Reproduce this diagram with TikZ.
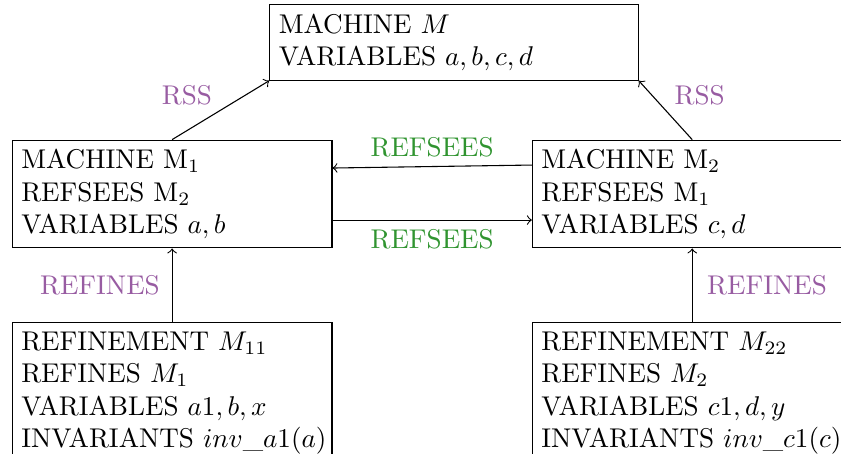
\documentclass[tikz,border=0pt]{standalone}
\usepackage{amsmath,amssymb}

\definecolor{relviolet}{RGB}{152,92,162}
\definecolor{relgreen}{RGB}{48,148,48}

\begin{document}
\begin{tikzpicture}[
  mbox/.style={draw, align=left, inner sep=3.33pt, text width=111.3pt},
  topbox/.style={mbox, text width=129.3pt},
  reflab/.style={text=relviolet},
  seelab/.style={text=relgreen}]

\useasboundingbox (0,0) rectangle (310.3pt,-167.5pt);

% the abstract machine
\node[topbox] (m) at (167.5pt,-15.7pt) {MACHINE $M$\\VARIABLES $a,b,c,d$};

% the two machines that see each other
\node[mbox] (m1) at (63.5pt,-71.6pt) {MACHINE M$_1$\\REFSEES M$_2$\\VARIABLES $a,b$};
\node[mbox] (m2) at (255.4pt,-71.6pt) {MACHINE M$_2$\\REFSEES M$_1$\\VARIABLES $c,d$};

% refinements
\node[mbox, anchor=north] (m11) at (63.5pt,-118.8pt)
  {REFINEMENT $M_{11}$\\REFINES $M_1$\\VARIABLES $a1,b,x$\\\mbox{INVARIANTS $inv\_a1(a)$}};
\node[mbox, anchor=north] (m22) at (255.4pt,-118.8pt)
  {REFINEMENT $M_{22}$\\REFINES $M_2$\\VARIABLES $c1,d,y$\\\mbox{INVARIANTS $inv\_c1(c)$}};

\draw[->] (m1.north) -- node[reflab, pos=0.76, left=9pt] {RSS} (m.south west);
\draw[->] (m2.north) -- node[reflab, pos=0.76, right=5pt] {RSS} (m.south east);

\draw[->] ([yshift=10.7pt]m2.west) -- node[seelab, midway, above] {REFSEES} ([yshift=9.6pt]m1.east);
\draw[->] ([yshift=-9.6pt]m1.east) -- node[seelab, midway, below] {REFSEES} ([yshift=-9.6pt]m2.west);

\draw[->] (m11.north) -- node[reflab, midway, left=1pt] {REFINES} (m1.south);
\draw[->] (m22.north) -- node[reflab, midway, right=2pt] {REFINES} (m2.south);

\end{tikzpicture}
\end{document}
